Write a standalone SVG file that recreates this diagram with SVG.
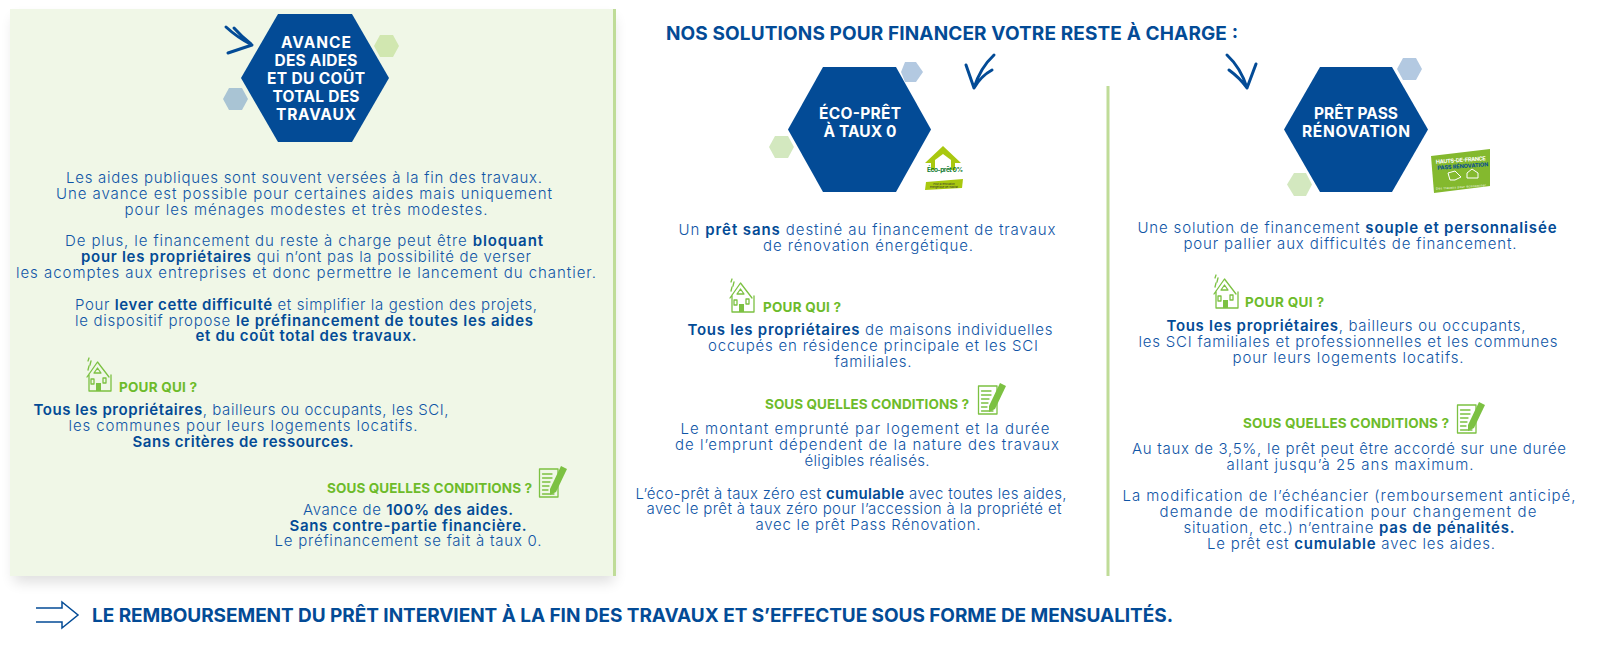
<svg xmlns="http://www.w3.org/2000/svg" width="1600" height="651" viewBox="0 0 1600 651">
<style>
text{font-family:"Inter","Noto Sans","Liberation Sans",sans-serif}
.t{font-size:15px;font-weight:300;fill:#0f55a6;text-anchor:middle}
.t tspan{font-weight:600;fill:#034b96}
.h{font-size:15.500px;font-weight:700;fill:#fff;text-anchor:middle}
.g{font-size:13.500px;font-weight:700;fill:#6dbb2a}
.n{font-size:19px;font-weight:700;fill:#034b96}
.ar{fill:none;stroke:#034b96;stroke-width:3;stroke-linecap:round;stroke-linejoin:round}
.ic{fill:none;stroke:#7cc142;stroke-width:1.300;stroke-linejoin:round;stroke-linecap:round}
.if{fill:#7cc142}
</style>
<defs>
<filter id="blur" x="-10%" y="-10%" width="120%" height="120%"><feGaussianBlur stdDeviation="7"/></filter>
<g id="house">
<path class="ic" d="M1 19 11.500 4 23 19M3 16V33H25V17"/>
<path class="ic" d="M11.500 10 15 15H8Z"/>
<path class="ic" d="M3 0 2 3M5 3 4 7M3 8 2 12"/>
<path class="ic" d="M5 21H8V26H5ZM17 20H20V25H17Z"/>
<path class="if" d="M10 25H15V33H10Z"/>
</g>
<g id="note">
<path class="ic" d="M0.500 3H19V31H0.500ZM3.500 8H13M3.500 12H13M3.500 16H11M3.500 20H10M3.500 24H9M3.500 28H15"/>
<path class="if" d="M11 23 22 0 28 3 17 26 11 29Z"/>
</g>
</defs>

<g id="panel-left">
<rect x="14" y="18" width="600" height="564" fill="#000" opacity=".13" filter="url(#blur)"/>
<rect x="10" y="9" width="606" height="567" fill="#f0f7e7"/>
<rect x="613" y="9" width="3" height="567" fill="#bfdc98"/>
</g>

<g id="node-avance">
<polygon points="380,35 393,35 399,46 393,57 380,57 374,46" fill="#d1e7b0"/>
<polygon points="229,88 242,88 248,99 242,110 229,110 223,99" fill="#a9c4d4"/>
<polygon points="278,14 352,14 389,78 352,142 278,142 241,78" fill="#034b96"/>
<text class="h" x="316" y="48" textLength="70">AVANCE</text>
<text class="h" x="316" y="66" textLength="83">DES AIDES</text>
<text class="h" x="316" y="84" textLength="98">ET DU COÛT</text>
<text class="h" x="316" y="102" textLength="87">TOTAL DES</text>
<text class="h" x="316" y="120" textLength="80">TRAVAUX</text>
<path class="ar" d="M226 27Q238 38 252 45L228 53M234 28Q242 37 251 44"/>
</g>

<g id="text-avance">
<text class="t" x="304" y="183" textLength="476">Les aides publiques sont souvent versées à la fin des travaux.</text>
<text class="t" x="304" y="199" textLength="496">Une avance est possible pour certaines aides mais uniquement</text>
<text class="t" x="306" y="214.500" textLength="363">pour les ménages modestes et très modestes.</text>
<text class="t" x="304" y="246" textLength="478">De plus, le financement du reste à charge peut être <tspan>bloquant</tspan></text>
<text class="t" x="306" y="262" textLength="450"><tspan>pour les propriétaires</tspan> qui n’ont pas la possibilité de verser</text>
<text class="t" x="306" y="278" textLength="580">les acomptes aux entreprises et donc permettre le lancement du chantier.</text>
<text class="t" x="306" y="310" textLength="462">Pour <tspan>lever cette difficulté</tspan> et simplifier la gestion des projets,</text>
<text class="t" x="304" y="325.500" textLength="458">le dispositif propose <tspan>le préfinancement de toutes les aides</tspan></text>
<text class="t" x="306" y="341" textLength="221"><tspan>et du coût total des travaux.</tspan></text>
<use href="#house" x="86" y="358"/>
<text class="g" x="119" y="392" textLength="78">POUR QUI ?</text>
<text class="t" x="241" y="415" textLength="415"><tspan>Tous les propriétaires</tspan>, bailleurs ou occupants, les SCI,</text>
<text class="t" x="243" y="431" textLength="349">les communes pour leurs logements locatifs.</text>
<text class="t" x="243" y="446.500" textLength="221"><tspan>Sans critères de ressources.</tspan></text>
<text class="g" x="327" y="493" textLength="205">SOUS QUELLES CONDITIONS ?</text>
<use href="#note" x="539" y="466"/>
<text class="t" x="408" y="515" textLength="210">Avance de <tspan>100% des aides.</tspan></text>
<text class="t" x="408" y="530.500" textLength="237"><tspan>Sans contre-partie financière.</tspan></text>
<text class="t" x="408" y="546" textLength="267">Le préfinancement se fait à taux 0.</text>
</g>

<text id="title" class="n" x="666" y="40" textLength="572">NOS SOLUTIONS POUR FINANCER VOTRE RESTE À CHARGE :</text>

<g id="node-eco">
<polygon points="905,62 916,62 923,72 916,82 905,82 901,72" fill="#b3c9e1"/>
<polygon points="775,136 788,136 794,147 788,158 775,158 769,147" fill="#d3e8bf"/>
<polygon points="823,67 896,67 931,129.500 896,192 823,192 788,129.500" fill="#034b96"/>
<text class="h" x="860" y="119" textLength="82">ÉCO-PRÊT</text>
<text class="h" x="860" y="137" textLength="73">À TAUX 0</text>
<path class="ar" d="M966 65 974 88Q980 68 994 55M974 88Q981 76 992 70"/>
<g id="logo-eco">
<path d="M925 163 943 146 961 163H955V170H931V163Z" fill="#a9c80f"/>
<path d="M935 170V160L943 154 951 160V170Z" fill="#fff"/>
<text x="945" y="172" font-size="6.500" font-weight="700" fill="#0f7a2e" text-anchor="middle" textLength="36">Éco-prêt 0%</text>
<path d="M926 182 963 179 962 188 925 190Z" fill="#a9c80f"/>
<text x="944" y="185" font-size="2.500" fill="#333" text-anchor="middle">Pour la rénovation</text>
<text x="944" y="188" font-size="2.500" fill="#333" text-anchor="middle">énergétique de l’habitat</text>
</g>
</g>

<g id="text-eco">
<text class="t" x="867" y="235" textLength="377">Un <tspan>prêt sans</tspan> destiné au financement de travaux</text>
<text class="t" x="868" y="250.500" textLength="210">de rénovation énergétique.</text>
<use href="#house" x="729" y="279"/>
<text class="g" x="763" y="312" textLength="78">POUR QUI ?</text>
<text class="t" x="870" y="335" textLength="365"><tspan>Tous les propriétaires</tspan> de maisons individuelles</text>
<text class="t" x="873" y="351" textLength="330">occupés en résidence principale et les SCI</text>
<text class="t" x="873" y="367" textLength="77">familiales.</text>
<text class="g" x="765" y="409" textLength="204">SOUS QUELLES CONDITIONS ?</text>
<use href="#note" x="978" y="383"/>
<text class="t" x="865" y="434" textLength="369">Le montant emprunté par logement et la durée</text>
<text class="t" x="867" y="450" textLength="384">de l’emprunt dépendent de la nature des travaux</text>
<text class="t" x="867" y="466" textLength="125">éligibles réalisés.</text>
<text class="t" x="851" y="498.500" textLength="431">L’éco-prêt à taux zéro est <tspan>cumulable</tspan> avec toutes les aides,</text>
<text class="t" x="854" y="514" textLength="415">avec le prêt à taux zéro pour l’accession à la propriété et</text>
<text class="t" x="868" y="530" textLength="225">avec le prêt Pass Rénovation.</text>
</g>

<rect id="divider" x="1106.500" y="86" width="3" height="490" fill="#bfdc98"/>

<g id="node-pass">
<polygon points="1403,58 1416,58 1422,69 1416,80 1403,80 1397,69" fill="#b3c9e1"/>
<polygon points="1294,173 1306,173 1312,184.500 1306,196 1294,196 1287,184.500" fill="#d3e8bf"/>
<polygon points="1320,67 1392,67 1428,129.500 1392,192 1320,192 1284,129.500" fill="#034b96"/>
<text class="h" x="1356" y="119" textLength="84">PRÊT PASS</text>
<text class="h" x="1356" y="137" textLength="108">RÉNOVATION</text>
<path class="ar" d="M1227 55Q1241 68 1247 88L1256 64M1229 70Q1240 78 1247 88"/>
<g id="logo-pass">
<path d="M1431 156 1490 149V186L1434 193Z" fill="#84b92e"/>
<text x="1461" y="162" font-size="5.500" font-weight="700" fill="#fff" text-anchor="middle" textLength="50" transform="rotate(-4 1461 162)">HAUTS-DE-FRANCE</text>
<text x="1463" y="168" font-size="5.500" font-weight="700" fill="#034b96" text-anchor="middle" textLength="51" transform="rotate(-4 1463 168)">PASS RÉNOVATION</text>
<path d="M1448 173 1455 171 1461 177 1455 180 1450 180Z" fill="none" stroke="#fff"/>
<path d="M1467 178V173L1472 169 1478 173V178Z" fill="none" stroke="#fff"/>
<text x="1461" y="188" font-size="3" fill="#fff" text-anchor="middle" textLength="50" transform="rotate(-4 1461 188)">Des travaux pour économiser</text>
</g>
</g>

<g id="text-pass">
<text class="t" x="1347" y="233" textLength="419">Une solution de financement <tspan>souple et personnalisée</tspan></text>
<text class="t" x="1350" y="248.500" textLength="333">pour pallier aux difficultés de financement.</text>
<use href="#house" x="1213" y="275"/>
<text class="g" x="1245" y="307" textLength="79">POUR QUI ?</text>
<text class="t" x="1346" y="331" textLength="359"><tspan>Tous les propriétaires</tspan>, bailleurs ou occupants,</text>
<text class="t" x="1348" y="347" textLength="419">les SCI familiales et professionnelles et les communes</text>
<text class="t" x="1348" y="363" textLength="231">pour leurs logements locatifs.</text>
<text class="g" x="1243" y="428" textLength="206">SOUS QUELLES CONDITIONS ?</text>
<use href="#note" x="1457" y="402"/>
<text class="t" x="1349" y="454" textLength="434">Au taux de 3,5%, le prêt peut être accordé sur une durée</text>
<text class="t" x="1350" y="470" textLength="247">allant jusqu’à 25 ans maximum.</text>
<text class="t" x="1349" y="501" textLength="453">La modification de l’échéancier (remboursement anticipé,</text>
<text class="t" x="1348" y="517" textLength="377">demande de modification pour changement de</text>
<text class="t" x="1349" y="533" textLength="331">situation, etc.) n’entraine <tspan>pas de pénalités.</tspan></text>
<text class="t" x="1351" y="549" textLength="288">Le prêt est <tspan>cumulable</tspan> avec les aides.</text>
</g>

<g id="footer">
<path d="M36 608H62V602L78 615 62 628V622H36" fill="none" stroke="#034b96" stroke-width="1.500"/>
<text class="n" x="92" y="622" textLength="1081">LE REMBOURSEMENT DU PRÊT INTERVIENT À LA FIN DES TRAVAUX ET S’EFFECTUE SOUS FORME DE MENSUALITÉS.</text>
</g>
</svg>
